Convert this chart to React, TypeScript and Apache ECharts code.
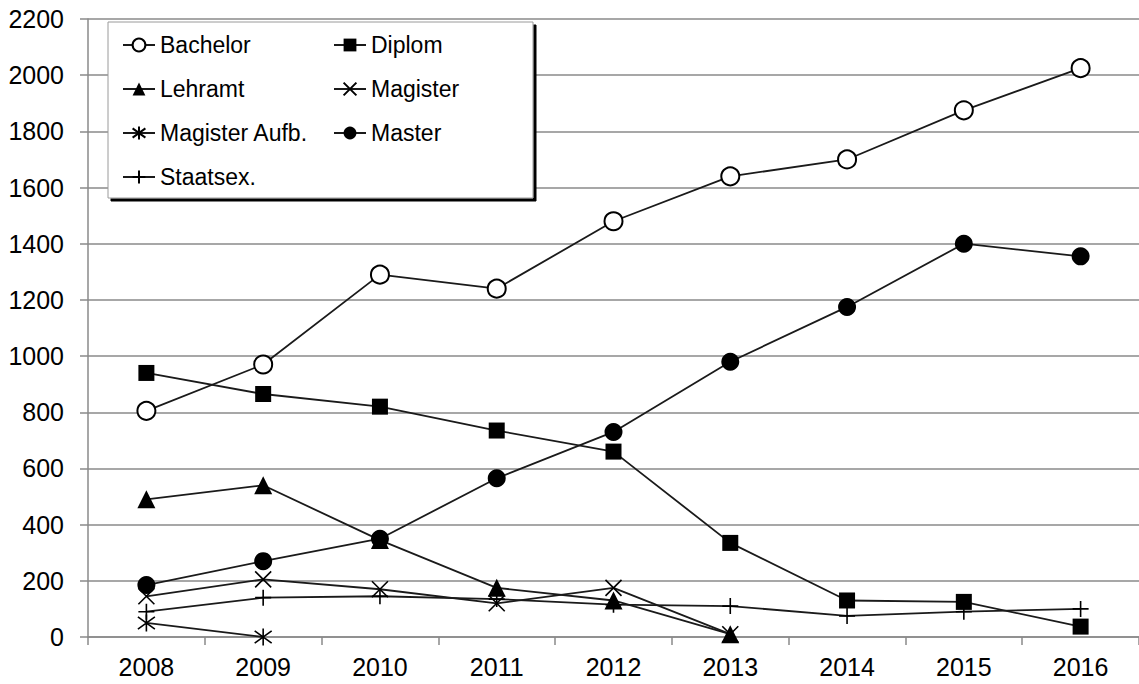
import React, { useEffect, useRef } from "react";
import * as echarts from "echarts";

const years = ["2008", "2009", "2010", "2011", "2012", "2013", "2014", "2015", "2016"];
const bachelor = [805, 970, 1290, 1240, 1480, 1640, 1700, 1875, 2025];
const diplom = [940, 865, 820, 735, 660, 335, 130, 125, 37];
const lehramt = [490, 540, 345, 175, 130, 10, null, null, null];
const magister = [145, 205, 170, 120, 175, 10, null, null, null];
const magisterAufb = [50, 0, null, null, null, null, null, null, null];
const master = [185, 270, 350, 565, 730, 980, 1175, 1400, 1355];
const staatsex = [90, 140, 145, 135, 115, 110, 75, 90, 100];

const FONT = "Liberation Sans, Arial, sans-serif";
const LINE = "#1a1a1a";
const GRID = "#8a8a8a";

const xPath = "path://M0,0L16,16M16,0L0,16";
const starPath = "path://M0,0L16,16M16,0L0,16M8,-3L8,19";
const plusPath = "path://M8,0L8,16M0,8L16,8";

function mk(name: string, data: any[], symbol: string, size: any, stroked: boolean) {
  return {
    name,
    type: "line",
    data,
    symbol,
    symbolSize: size,
    showAllSymbol: true,
    connectNulls: false,
    color: "#000",
    lineStyle: { color: LINE, width: 1.8, type: "solid" },
    itemStyle: {
      color: "#000",
      borderColor: "#000",
      borderWidth: stroked ? 1.6 : 0,
    },
    emphasis: { disabled: true },
  };
}

export default function App() {
  const ref = useRef<HTMLDivElement>(null);
  useEffect(() => {
    document.body.style.margin = "0";
    const chart = echarts.init(ref.current!, null, { renderer: "svg" });
    const legendCommon = {
      orient: "vertical",
      top: 28,
      itemWidth: 32,
      itemHeight: 16,
      itemGap: 20,
      textStyle: { fontFamily: FONT, fontSize: 23, color: "#000", lineHeight: 24 },
      selectedMode: false,
    };
    chart.setOption({
      animation: false,
      backgroundColor: "#fff",
      grid: { left: 88, top: 19, width: 1061, height: 618, containLabel: false },
      graphic: [
        {
          type: "rect",
          z: 3,
          shape: { x: 108, y: 22, width: 425, height: 176 },
          style: {
            fill: "#fff",
            stroke: "#9a9a9a",
            lineWidth: 1,
            shadowColor: "#000",
            shadowOffsetX: 3,
            shadowOffsetY: 3,
            shadowBlur: 0,
          },
        },
      ],
      legend: [
        { ...legendCommon, left: 117, data: ["Bachelor", "Lehramt", "Magister Aufb.", "Staatsex."] },
        { ...legendCommon, left: 328, data: ["Diplom", "Magister", "Master"] },
      ],
      xAxis: {
        type: "category",
        data: years,
        boundaryGap: true,
        axisLine: { lineStyle: { color: GRID, width: 1.5 } },
        axisTick: { show: true, length: 8, lineStyle: { color: GRID, width: 1.5 } },
        axisLabel: { fontFamily: FONT, fontSize: 25, color: "#000", margin: 17 },
        splitLine: { show: false },
      },
      yAxis: {
        type: "value",
        min: 0,
        max: 2200,
        interval: 200,
        axisLine: { show: true, lineStyle: { color: GRID, width: 1.5 } },
        axisTick: { show: true, length: 8, lineStyle: { color: GRID, width: 1.5 } },
        axisLabel: {
          fontFamily: FONT,
          fontSize: 25,
          color: "#000",
          margin: 24,
          formatter: (v: number) => String(v),
        },
        splitLine: { show: true, lineStyle: { color: GRID, width: 1.5 } },
      },
      series: [
        mk("Bachelor", bachelor, "emptyCircle", 18, true),
        mk("Diplom", diplom, "rect", 16, false),
        mk("Lehramt", lehramt, "triangle", 18, false),
        mk("Magister", magister, xPath, 16, true),
        mk("Magister Aufb.", magisterAufb, starPath, 17, true),
        mk("Master", master, "circle", 18, false),
        mk("Staatsex.", staatsex, plusPath, 16, true),
      ],
    });
    return () => chart.dispose();
  }, []);
  return <div ref={ref} style={{ position: "fixed", left: 0, top: 0, width: 1139, height: 684 }} />;
}
